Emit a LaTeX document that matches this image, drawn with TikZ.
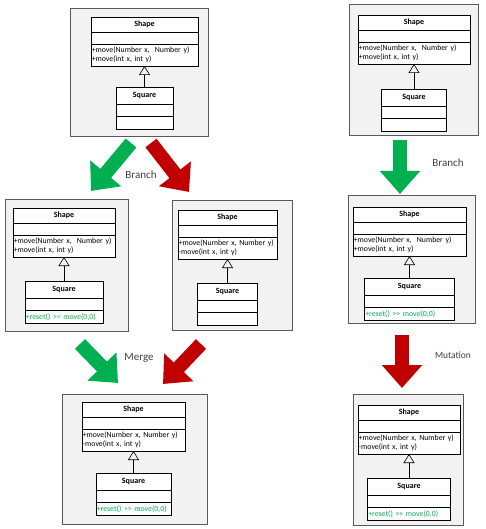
\documentclass[tikz,border=0pt]{standalone}
\usepackage{fontspec}
\setmainfont{Carlito}
\usepackage{tikz}
\usetikzlibrary{positioning,arrows.meta}
\definecolor{mgreen}{HTML}{00B050}
\definecolor{mred}{HTML}{C00000}

\begin{document}
\begin{tikzpicture}[
    x=1pt, y=-1pt,
    panel/.style={draw=black!65, fill=black!5, line width=0.8pt, anchor=north west, inner sep=0pt},
    row/.style={draw, fill=white, line width=0.6pt, outer sep=0pt, inner xsep=0.8pt, inner ysep=1.5pt, font=\fontsize{7.8}{9.5}\selectfont},
    ctitle/.style={row, font=\fontsize{8}{9.5}\selectfont\bfseries, minimum height=15pt, minimum width=#1},
    cgap/.style={row, minimum height=12pt, minimum width=#1},
    cmeth/.style={row, align=left, minimum height=22pt, text width=#1},
    stitle/.style={row, font=\fontsize{8}{9.5}\selectfont\bfseries, minimum height=17pt, minimum width=#1},
    sgap/.style={row, minimum height=12.5pt, minimum width=#1},
    sreset/.style={row, align=left, text=mgreen, minimum height=13pt, text width=#1},
    inherit/.style={-{Triangle[open, width=11pt, length=9pt]}, line width=0.6pt},
    fat/.style={line width=14pt, -{Triangle[width=39pt, length=23pt]}},
    lbl/.style={font=\fontsize{11}{13}\selectfont, text=black!75}]

    \useasboundingbox (0,0) rectangle (486,529);

    \node[panel, minimum width=138pt, minimum height=128pt] (base) at (70,8) {};
    \node[ctitle=107pt, anchor=north west] (base-shape) at (91,17) {Shape};
    \node[cgap=107pt, below=0pt of base-shape] (base-shape-e) {};
    \node[cmeth=105.4pt, below=0pt of base-shape-e] (base-shape-m) {+move(Number x,\ \ Number y)\\+move(int x, int y)};
    \node[stitle=57pt, below=21pt of base-shape-m] (base-sq) {Square};
    \node[sgap=57pt, below=0pt of base-sq] (base-sq-e) {};
    \node[sgap=57pt, below=0pt of base-sq-e] (base-sq-m) {};
    \draw[inherit] (base-sq) -- (base-shape-m);

    \node[panel, minimum width=123pt, minimum height=132pt] (brA) at (5,199) {};
    \node[ctitle=102pt, anchor=north west] (brA-shape) at (13,208) {Shape};
    \node[cgap=102pt, below=0pt of brA-shape] (brA-shape-e) {};
    \node[cmeth=100.4pt, below=0pt of brA-shape-e] (brA-shape-m) {+move(Number x,\ \ Number y)\\+move(int x, int y)};
    \node[stitle=78pt, below=24pt of brA-shape-m] (brA-sq) {Square};
    \node[sgap=78pt, below=0pt of brA-sq] (brA-sq-e) {};
    \node[sreset=76.4pt, below=0pt of brA-sq-e] (brA-sq-m) {+reset() >{}> move(0,0)};
    \draw[inherit] (brA-sq) -- (brA-shape-m);

    \node[panel, minimum width=120pt, minimum height=130pt] (brB) at (172,200) {};
    \node[ctitle=99pt, anchor=north west] (brB-shape) at (178,210) {Shape};
    \node[cgap=99pt, below=0pt of brB-shape] (brB-shape-e) {};
    \node[cmeth=97.4pt, below=0pt of brB-shape-e] (brB-shape-m) {+move(Number x, Number y)\\{\color{mred}-}move(int x, int y)};
    \node[stitle=60pt, below=24pt of brB-shape-m] (brB-sq) {Square};
    \node[sgap=60pt, below=0pt of brB-sq] (brB-sq-e) {};
    \node[sgap=60pt, below=0pt of brB-sq-e] (brB-sq-m) {};
    \draw[inherit] (brB-sq) -- (brB-shape-m);

    \node[panel, minimum width=145pt, minimum height=130pt] (merged) at (62,394) {};
    \node[ctitle=103pt, anchor=north west] (merged-shape) at (82,402) {Shape};
    \node[cgap=103pt, below=0pt of merged-shape] (merged-shape-e) {};
    \node[cmeth=101.4pt, below=0pt of merged-shape-e] (merged-shape-m) {+move(Number x, Number y)\\{\color{mred}-}move(int x, int y)};
    \node[stitle=75pt, below=22pt of merged-shape-m] (merged-sq) {Square};
    \node[sgap=75pt, below=0pt of merged-sq] (merged-sq-e) {};
    \node[sreset=73.4pt, below=0pt of merged-sq-e] (merged-sq-m) {+reset() >{}> move(0,0)};
    \draw[inherit] (merged-sq) -- (merged-shape-m);

    \node[panel, minimum width=129pt, minimum height=131pt] (base2) at (349,4) {};
    \node[ctitle=112pt, anchor=north west] (base2-shape) at (358,15) {Shape};
    \node[cgap=112pt, below=0pt of base2-shape] (base2-shape-e) {};
    \node[cmeth=110.4pt, below=0pt of base2-shape-e] (base2-shape-m) {+move(Number x,\ \ Number y)\\+move(int x, int y)};
    \node[stitle=65pt, below=25pt of base2-shape-m] (base2-sq) {Square};
    \node[sgap=65pt, below=0pt of base2-sq] (base2-sq-e) {};
    \node[sgap=65pt, below=0pt of base2-sq-e] (base2-sq-m) {};
    \draw[inherit] (base2-sq) -- (base2-shape-m);

    \node[panel, minimum width=127pt, minimum height=128pt] (br2) at (348,195) {};
    \node[ctitle=113pt, anchor=north west] (br2-shape) at (353,207) {Shape};
    \node[cgap=113pt, below=0pt of br2-shape] (br2-shape-e) {};
    \node[cmeth=111.4pt, below=0pt of br2-shape-e] (br2-shape-m) {+move(Number x,\ \ Number y)\\+move(int x, int y)};
    \node[stitle=90pt, below=22pt of br2-shape-m] (br2-sq) {Square};
    \node[sgap=90pt, below=0pt of br2-sq] (br2-sq-e) {};
    \node[sreset=88.4pt, below=0pt of br2-sq-e] (br2-sq-m) {+reset() >{}> move(0,0)};
    \draw[inherit] (br2-sq) -- (br2-shape-m);

    \node[panel, minimum width=110pt, minimum height=131pt] (mut) at (353,394) {};
    \node[ctitle=102pt, anchor=north west] (mut-shape) at (358,405) {Shape};
    \node[cgap=102pt, below=0pt of mut-shape] (mut-shape-e) {};
    \node[cmeth=100.4pt, below=0pt of mut-shape-e] (mut-shape-m) {+move(Number x, Number y)\\{\color{mred}-}move(int x, int y)};
    \node[stitle=83pt, below=24pt of mut-shape-m] (mut-sq) {Square};
    \node[sgap=83pt, below=0pt of mut-sq] (mut-sq-e) {};
    \node[sreset=81.4pt, below=0pt of mut-sq-e] (mut-sq-m) {+reset() >{}> move(0,0)};
    \draw[inherit] (mut-sq) -- (mut-shape-m);

    \coordinate (brA-from) at (131,143);
    \coordinate (brA-to) at (91,191);
    \coordinate (brB-from) at (151,143);
    \coordinate (brB-to) at (189,192);
    \coordinate (mgA-from) at (80,344);
    \coordinate (mgA-to) at (118,383);
    \coordinate (mgB-from) at (201,344);
    \coordinate (mgB-to) at (163,384);
    \coordinate (br2-from) at (400,140);
    \coordinate (br2-to) at (400,194);
    \coordinate (mut-from) at (402,335);
    \coordinate (mut-to) at (402,388);
    \draw[fat, mgreen] (brA-from) -- (brA-to);
    \draw[fat, mred] (brB-from) -- (brB-to);
    \draw[fat, mgreen] (mgA-from) -- (mgA-to);
    \draw[fat, mred] (mgB-from) -- (mgB-to);
    \draw[fat, mgreen] (br2-from) -- (br2-to);
    \draw[fat, mred] (mut-from) -- (mut-to);

    \node[lbl] (branch-lbl) at (141,175) {Branch};
    \node[lbl] (merge-lbl) at (139,358) {Merge};
    \node[lbl] (branch2-lbl) at (448,163) {Branch};
    \node[lbl, font=\fontsize{9.5}{11}\selectfont] (mut-lbl) at (453,355) {Mutation};

\end{tikzpicture}
\end{document}
